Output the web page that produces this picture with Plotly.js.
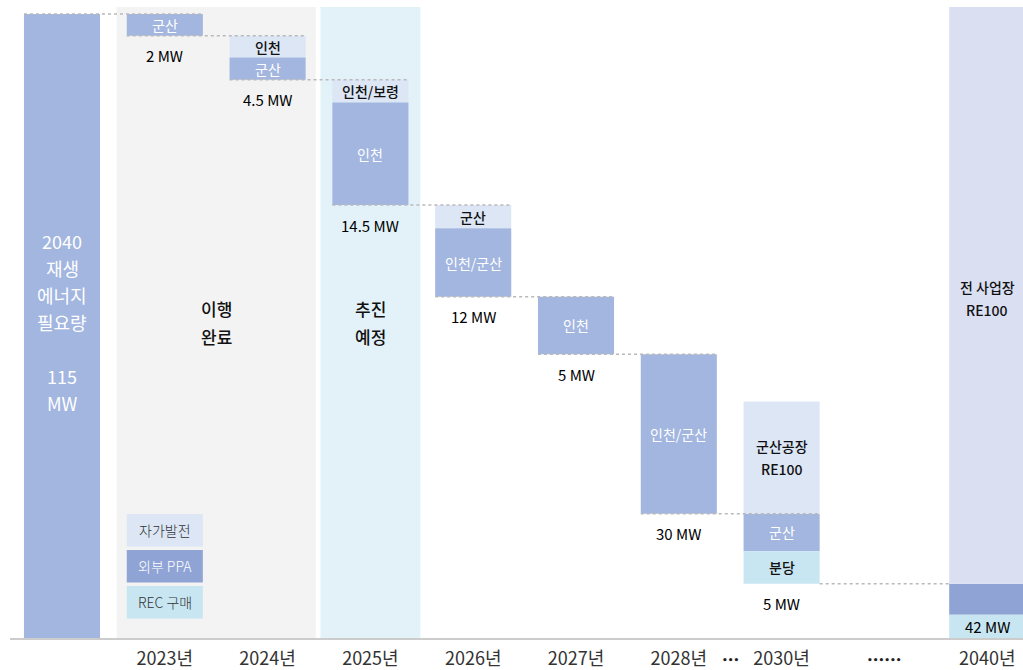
<!DOCTYPE html>
<html>
<head>
<meta charset="utf-8">
<script src="https://cdn.plot.ly/plotly-3.0.1.min.js"></script>
<style>html,body{margin:0;padding:0;background:#fff}#chart{width:1023px;height:670px}</style>
</head>
<body>
<div id="chart"></div>
<script>
// ---------------- data ----------------
const totalNeed = 115; // MW, 2040 renewable energy requirement
const needLabel = ['2040', '재생', '에너지', '필요량', '', '115', 'MW'];
const years = ['2023년', '2024년', '2025년', '2026년', '2027년', '2028년', '2030년', '2040년'];
const mwValues = [2, 4.5, 14.5, 12, 5, 30, 5, 42];
// segment heights as drawn in the reference (the infographic is not to scale)
const selfGen = [0, 4.0, 4.2, 4.3, 0, 0, 0, 0];
const ppa = [4.0, 4.1, 18.9, 12.6, 10.6, 29.4, 6.9, 5.7];
const rec = [0, 0, 0, 0, 0, 0, 6.0, 4.3];
const selfGenText = ['', '인천', '인천/보령', '군산', '', '', '', ''];
const ppaText = ['군산', '군산', '인천', '인천/군산', '인천', '인천/군산', '군산', ''];
const recText = ['', '', '', '', '', '', '분당', ''];
// RE100 targets drawn above the bars
const capYears = ['2030년', '2040년'];
const capHeights = [20.7, 106.3];
const capText = [['군산공장', 'RE100'], ['전 사업장', 'RE100']];
// categories on the axis
const categories = ['need', '2023년', '2024년', '2025년', '2026년', '2027년', '2028년', '2030년', 'gap', '2040년'];
const tickLabels = ['', '2023년', '2024년', '2025년', '2026년', '2027년', '2028년', '2030년', '', '2040년'];
const phaseLabels = [['이행', '완료'], ['추진', '예정']];
const legendNames = ['자가발전', '외부 PPA', 'REC 구매'];

// ---------------- style ----------------
const FONT = '"Noto Sans CJK KR", "Noto Sans", sans-serif';
const C_PPA = '#a2b6df', C_PPA_DARK = '#8fa4d5', C_SELF = '#dce6f5', C_REC = '#c8e6f2';
const C_CAP = ['#dce6f5', '#dadff2'];
const legendColors = [C_SELF, C_PPA_DARK, C_REC];
const legendTextColors = ['#333333', '#ffffff', '#333333'];
const W = 0.74;
const PLOT_H = 638, Y_MAX = 117.58, PXU = PLOT_H / Y_MAX;
const PANEL_TOP = 116.3;
const px = p => p / PXU;
const idx = c => categories.indexOf(c);

// ---------------- bases ----------------
let level = totalNeed;
const tops = [], selfBase = [], ppaBase = [], recBase = [];
years.forEach((y, i) => {
  tops.push(level);
  selfBase.push(level - selfGen[i]);
  ppaBase.push(selfBase[i] - ppa[i]);
  recBase.push(ppaBase[i] - rec[i]);
  level = recBase[i];
});

function segTrace(vals, bases, colors, name) {
  const xs = [], ys = [], bs = [], cs = [];
  vals.forEach((v, i) => { if (v > 0) { xs.push(years[i]); ys.push(v); bs.push(bases[i]); cs.push(Array.isArray(colors) ? colors[i] : colors); } });
  return {type: 'bar', name, x: xs, y: ys, base: bs, width: W, marker: {color: cs, line: {width: 0}}, hoverinfo: 'skip', showlegend: false};
}

const ppaColors = years.map((y, i) => i === years.length - 1 ? C_PPA_DARK : C_PPA);
const capBases = capYears.map(c => tops[years.indexOf(c)]);

const traces = [
  {type: 'bar', x: ['need'], y: [totalNeed], base: [0], width: W, marker: {color: C_PPA, line: {width: 0}}, hoverinfo: 'skip', showlegend: false},
  segTrace(selfGen, selfBase, C_SELF, '자가발전'),
  segTrace(ppa, ppaBase, ppaColors, '외부 PPA'),
  segTrace(rec, recBase, C_REC, 'REC 구매'),
  {type: 'bar', x: capYears, y: capHeights, base: capBases, width: W, marker: {color: C_CAP, line: {width: 0}}, hoverinfo: 'skip', showlegend: false}
];

// ---------------- annotations ----------------
const ann = [];
function txt(x, y, text, opt) {
  opt = opt || {};
  ann.push({x, y, xref: opt.xref || 'x', yref: opt.yref || 'y', text, showarrow: false,
    xanchor: 'center', yanchor: 'middle', yshift: opt.yshift || 0,
    font: {family: opt.family || FONT, size: opt.size || 14, color: opt.color || '#222', weight: opt.weight || 400}});
}
function lines(x, yc, arr, spacing, opt, shift) {
  const n = arr.length;
  arr.forEach((t, k) => { if (t) txt(x, yc, t, Object.assign({}, opt, {yshift: ((n - 1) / 2 - k) * spacing + (shift || 0)})); });
}
lines(0, totalNeed / 2, needLabel, 27, {size: 18, color: '#ffffff'}, 4);
lines(1.5, totalNeed / 2, phaseLabels[0], 28, {size: 17, weight: 500, color: '#111'}, 4);
lines(3, totalNeed / 2, phaseLabels[1], 28, {size: 17, weight: 500, color: '#111'}, 4);
years.forEach((yr, i) => {
  if (selfGen[i] > 0 && selfGenText[i]) txt(yr, selfBase[i] + selfGen[i] / 2, selfGenText[i], {weight: 500, color: '#111'});
  if (ppa[i] > 0 && ppaText[i]) txt(yr, ppaBase[i] + ppa[i] / 2, ppaText[i], {color: '#ffffff'});
  if (rec[i] > 0 && recText[i]) txt(yr, recBase[i] + rec[i] / 2, recText[i], {weight: 500, color: '#111'});
  const mw = mwValues[i] + ' MW';
  if (recBase[i] <= 0.001) txt(yr, recBase[i] + rec[i] / 2, mw, {size: 15, color: '#000'});
  else txt(yr, recBase[i], mw, {size: 15, color: '#000', yshift: -20});
});
capYears.forEach((c, k) => lines(c, capBases[k] + capHeights[k] / 2, capText[k], 23, {size: 14, weight: 500, color: '#111'}, k === 1 ? -3 : 0));

const LB = [[91.5, 124], [55.5, 88], [19.5, 52]];
const shapes = [];
shapes.push({type: 'rect', layer: 'below', xref: 'x', yref: 'y', x0: 0.532, x1: 2.468, y0: 0, y1: PANEL_TOP, fillcolor: '#f3f3f3', line: {width: 0}});
shapes.push({type: 'rect', layer: 'below', xref: 'x', yref: 'y', x0: 2.514, x1: 3.486, y0: 0, y1: PANEL_TOP, fillcolor: '#e3f2f8', line: {width: 0}});
legendNames.forEach((n, k) => {
  shapes.push({type: 'rect', layer: 'above', xref: 'x', yref: 'y', x0: 1 - W / 2, x1: 1 + W / 2, y0: px(LB[k][0]), y1: px(LB[k][1]), fillcolor: legendColors[k], line: {width: 0}});
  txt(1, px((LB[k][0] + LB[k][1]) / 2), n, {size: 14, color: legendTextColors[k], weight: 300});
});
const barIdx = [0].concat(years.map(idx));
const levels = [totalNeed].concat(recBase);
for (let k = 0; k < years.length; k++) {
  const a = barIdx[k], b = barIdx[k + 1];
  const last = k === years.length - 1;
  shapes.push({type: 'line', layer: 'above', xref: 'x', yref: 'y',
    x0: last ? a + W / 2 : a - W / 2, x1: last ? b - W / 2 : b + W / 2, y0: levels[k], y1: levels[k],
    line: {color: '#b9b9b9', width: 1.5, dash: 'dot'}});
}
txt(6.5, 0, '•••', {yref: 'paper', size: 9, color: '#222', weight: 700, family: 'DejaVu Sans', yshift: -22});
txt(idx('gap'), 0, '••••••', {yref: 'paper', size: 9, color: '#222', weight: 700, family: 'DejaVu Sans', yshift: -22});

const layout = {
  width: 1023, height: 670,
  margin: {l: 10, r: 0, t: 0, b: 32},
  paper_bgcolor: '#ffffff', plot_bgcolor: '#ffffff',
  barmode: 'overlay',
  showlegend: false,
  xaxis: {type: 'category', categoryorder: 'array', categoryarray: categories, range: [-0.5058, 9.348],
    tickmode: 'array', tickvals: categories, ticktext: tickLabels, ticks: '', showgrid: false, zeroline: false,
    showline: true, linecolor: '#cccccc', linewidth: 2, fixedrange: true, ticklabelstandoff: 3,
    tickfont: {family: FONT, size: 18, color: '#333', weight: 400}},
  yaxis: {range: [0, Y_MAX], visible: false, fixedrange: true},
  shapes, annotations: ann,
  font: {family: FONT}
};
Plotly.newPlot('chart', traces, layout, {staticPlot: true, displayModeBar: false});
</script>
</body>
</html>
